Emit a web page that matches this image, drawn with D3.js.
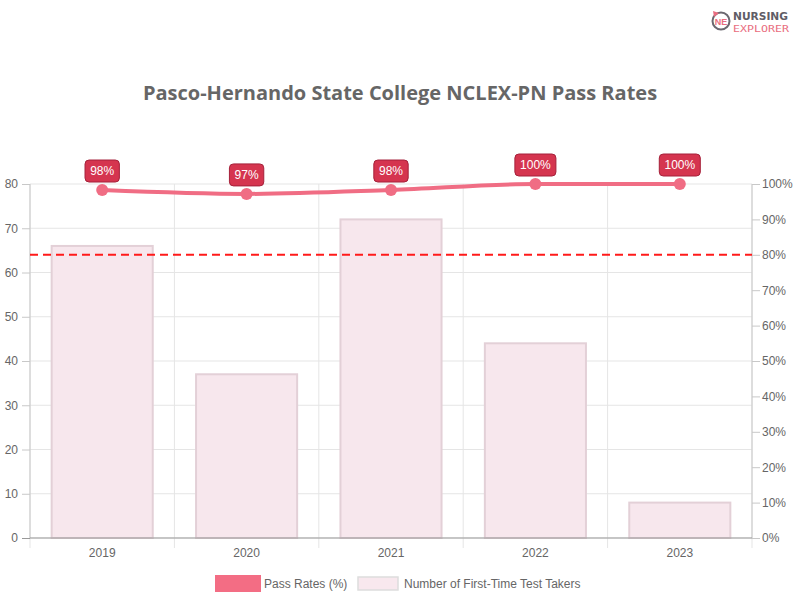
<!DOCTYPE html>
<html><head><meta charset="utf-8">
<script src="https://cdn.jsdelivr.net/npm/d3@7/dist/d3.min.js"></script>
<style>body{margin:0;background:#fff}svg{display:block}</style>
</head><body>
<svg id="c" width="800" height="600"></svg>
<script>
const years = ["2019","2020","2021","2022","2023"];
const takers = [66, 37, 72, 44, 8];
const passRates = [98.3, 97.2, 98.3, 100, 100];
const passLabels = ["98%","97%","98%","100%","100%"];
const leftTicks = [0,10,20,30,40,50,60,70,80];
const rightTicks = [0,10,20,30,40,50,60,70,80,90,100];
const benchmark = [80];
const title = "Pasco-Hernando State College NCLEX-PN Pass Rates";
const legendLabels = ["Pass Rates (%)", "Number of First-Time Test Takers"];

const svg = d3.select("#c");
const L = 30, R = 752, T = 184, B = 538;
const font = "'Liberation Sans', Arial, sans-serif";

const x = d3.scaleBand().domain(years).range([L, R]);
const yL = d3.scaleLinear().domain([0, 80]).range([B, T]);
const yR = d3.scaleLinear().domain([0, 100]).range([B, T]);

// grid
const g = svg.append("g");
g.selectAll("line.h").data(leftTicks).join("line")
  .attr("x1", L).attr("x2", R).attr("y1", d => yL(d)).attr("y2", d => yL(d))
  .attr("stroke", "#e5e5e5").attr("stroke-width", 1);
const bounds = years.map(d => x(d)).concat([R]);
g.selectAll("line.v").data(bounds).join("line")
  .attr("x1", d => d).attr("x2", d => d).attr("y1", T).attr("y2", B + 10)
  .attr("stroke", "#e5e5e5").attr("stroke-width", 1);

// bars
const bw = x.bandwidth() * 0.7;
svg.append("g").selectAll("rect").data(years).join("rect")
  .attr("x", d => x(d) + (x.bandwidth() - bw) / 2)
  .attr("y", (d, i) => yL(takers[i]))
  .attr("width", bw)
  .attr("height", (d, i) => B - yL(takers[i]))
  .attr("fill", "#f7e7ed").attr("stroke", "#e3d0d7").attr("stroke-width", 2);

// axes
const axL = svg.append("g").attr("transform", `translate(${L},0)`)
  .call(d3.axisLeft(yL).tickValues(leftTicks).tickSize(8).tickPadding(4));
const axR = svg.append("g").attr("transform", `translate(${R},0)`)
  .call(d3.axisRight(yR).tickValues(rightTicks).tickSize(8).tickPadding(2).tickFormat(d => d + "%"));
const axB = svg.append("g").attr("transform", `translate(0,${B})`)
  .call(d3.axisBottom(x).tickSize(0).tickPadding(10));
[axL, axR, axB].forEach(a => {
  a.selectAll("text").attr("fill", "#666").style("font-family", font).style("font-size", "12px");
  a.selectAll("line").attr("stroke", "#c8c8c8");
  a.select(".domain").attr("stroke", "#c8c8c8");
});
axL.select(".domain").attr("d", `M0,${T}V${B}`);
axR.select(".domain").attr("d", `M0,${T}V${B}`);
axB.select(".domain").attr("stroke", "#999").attr("d", `M${L},0H${R}`);
axL.selectAll(".tick").filter(d => d === 0).select("line").attr("stroke", "#999");

// benchmark
svg.append("g").selectAll("line").data(benchmark).join("line")
  .attr("x1", L).attr("x2", R).attr("y1", d => yR(d)).attr("y2", d => yR(d))
  .attr("stroke", "#ff1a1a").attr("stroke-width", 2).attr("stroke-dasharray", "8,5");

// line
const pts = years.map((d, i) => [x(d) + x.bandwidth() / 2, yR(passRates[i])]);
svg.append("path").attr("d", d3.line().curve(d3.curveMonotoneX)(pts))
  .attr("fill", "none").attr("stroke", "#f06d84").attr("stroke-width", 4);
svg.append("g").selectAll("circle").data(pts).join("circle")
  .attr("cx", d => d[0]).attr("cy", d => d[1]).attr("r", 6).attr("fill", "#f06d84");

// labels
const lab = svg.append("g").selectAll("g").data(pts).join("g")
  .attr("transform", d => `translate(${d[0]},${d[1] - 19})`);
lab.append("text").text((d, i) => passLabels[i])
  .attr("text-anchor", "middle").attr("dy", "0.35em")
  .attr("fill", "#fff").style("font-family", font).style("font-size", "12px")
  .each(function () {
    const b = this.getBBox();
    d3.select(this.parentNode).insert("rect", "text")
      .attr("x", -b.width / 2 - 5).attr("y", -11).attr("width", b.width + 10).attr("height", 22)
      .attr("rx", 4).attr("fill", "#d5354f").attr("stroke", "#a5213a").attr("stroke-width", 1);
  });

// title
svg.append("text").attr("x", 400).attr("y", 100).attr("text-anchor", "middle")
  .text(title).attr("fill", "#666")
  .style("font-family", "'Open Sans', sans-serif").style("font-weight", "bold").style("font-size", "20px");

// legend
const lg = svg.append("g");
lg.append("rect").attr("x", 215).attr("y", 575).attr("width", 46).attr("height", 17).attr("fill", "#f36d84");
lg.append("text").attr("x", 264).attr("y", 588).text(legendLabels[0])
  .attr("fill", "#666").style("font-family", font).style("font-size", "12px");
lg.append("rect").attr("x", 358).attr("y", 577).attr("width", 40).attr("height", 13)
  .attr("fill", "#f8e8ee").attr("stroke", "#ddd").attr("stroke-width", 1.5);
lg.append("text").attr("x", 404).attr("y", 588).text(legendLabels[1])
  .attr("fill", "#666").style("font-family", font).style("font-size", "12px");

// logo
const lo = svg.append("g");
lo.append("circle").attr("cx", 721).attr("cy", 21).attr("r", 8.5).attr("fill", "none").attr("stroke", "#6b6870").attr("stroke-width", 2);
lo.append("path").attr("d", "M713,11 L719,13 L714,17 Z").attr("fill", "#e96d80");
lo.append("text").attr("x", 721).attr("y", 24.5).attr("text-anchor", "middle").text("NE")
  .attr("fill", "#e96d80").style("font-family", font).style("font-weight", "bold").style("font-size", "9px");
lo.append("text").attr("x", 733).attr("y", 20).text("NURSING")
  .attr("fill", "#5f5d66").style("font-family", "'DejaVu Sans Condensed', sans-serif").style("font-weight", "bold").style("font-size", "11px")
  .attr("textLength", 55).attr("lengthAdjust", "spacingAndGlyphs");
lo.append("text").attr("x", 733).attr("y", 31.5).text("EXPLORER")
  .attr("fill", "#e96d80").style("font-family", "'DejaVu Sans Mono', monospace").style("font-size", "9px")
  .attr("textLength", 56).attr("lengthAdjust", "spacingAndGlyphs");
</script>
</body></html>
